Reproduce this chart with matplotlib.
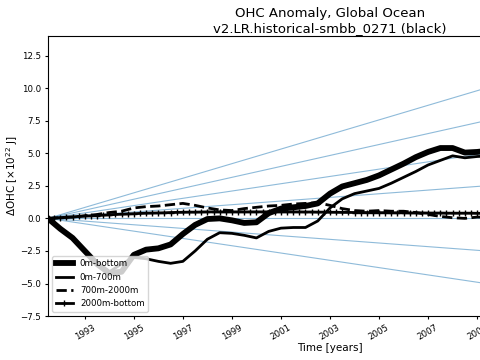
import numpy as np
import matplotlib
matplotlib.use('Agg')
import matplotlib.pyplot as plt


# time axis (years), half-year samples
t0 = 1991.5
time = np.arange(t0, 2009.51, 0.5)
time_q = np.arange(t0, 2009.51, 0.25)   # quarterly for the deep layer

ohc_0_bottom = [0.0, -0.8, -1.5, -2.5, -3.5, -4.2, -4.1, -2.8, -2.4, -2.3,
                -2.0, -1.2, -0.5, -0.05, 0.0, -0.15, -0.35, -0.3, 0.4, 0.75,
                0.85, 0.95, 1.15, 1.9, 2.45, 2.7, 2.95, 3.3, 3.75, 4.2,
                4.7, 5.1, 5.4, 5.4, 5.05, 5.1, 5.2]

ohc_0_700 = [0.0, -0.8, -1.5, -2.5, -3.5, -4.1, -3.5, -3.0, -3.1, -3.3,
             -3.45, -3.3, -2.5, -1.6, -1.1, -1.15, -1.3, -1.5, -1.0, -0.75,
             -0.7, -0.7, -0.2, 0.8, 1.5, 1.9, 2.1, 2.3, 2.7, 3.15,
             3.6, 4.1, 4.45, 4.8, 4.65, 4.75, 4.8]

ohc_700_2000 = [0.0, 0.05, 0.1, 0.2, 0.3, 0.45, 0.55, 0.8, 0.9, 0.95,
                1.05, 1.15, 1.0, 0.8, 0.65, 0.6, 0.75, 0.85, 0.95, 1.0,
                1.1, 1.15, 1.2, 1.0, 0.75, 0.6, 0.55, 0.6, 0.55, 0.55,
                0.45, 0.3, 0.15, 0.05, 0.0, 0.1, 0.1]

ohc_2000_bottom = [0.0, 0.03, 0.06, 0.09, 0.12, 0.15, 0.18, 0.2,
                   0.22, 0.25, 0.27, 0.3, 0.32, 0.34, 0.36, 0.38,
                   0.4, 0.41, 0.42, 0.43, 0.45, 0.46, 0.47, 0.48,
                   0.48, 0.49, 0.5, 0.5, 0.5, 0.5, 0.5, 0.5,
                   0.5, 0.5, 0.5, 0.5, 0.5, 0.5, 0.5, 0.5,
                   0.5, 0.5, 0.49, 0.49, 0.48, 0.48, 0.47, 0.47,
                   0.46, 0.46, 0.45, 0.45, 0.45, 0.44, 0.44, 0.44,
                   0.43, 0.43, 0.43, 0.42, 0.42, 0.42, 0.41, 0.41,
                   0.41, 0.4, 0.4, 0.4, 0.4, 0.4, 0.39, 0.39, 0.39]

# reference trend lines, x10^22 J per year
trend_slopes = [0.56, 0.42, 0.28, 0.14, 0.0, -0.14, -0.28]

xmax = 2014.5

fig = plt.figure(figsize=(4.8, 3.6), dpi=100)
ax = fig.add_axes([0.1, 0.122, 1.175, 0.778])

tt = np.array([t0, xmax])
for s in trend_slopes:
    ax.plot(tt, s * (tt - t0), color='tab:blue', alpha=0.5, lw=0.8)

ax.plot(time, ohc_0_bottom, color='k', lw=4.2, label='0m-bottom')
ax.plot(time, ohc_0_700, color='k', lw=2, label='0m-700m')
ax.plot(time, ohc_700_2000, color='k', lw=2, ls='--', label='700m-2000m')
ax.plot(time_q, ohc_2000_bottom, color='k', lw=2, marker='+', ms=5,
        label='2000m-bottom')

ax.set_xlim(t0, xmax)
ax.set_ylim(-7.5, 14)
ax.set_xticks(np.arange(1993, 2014, 2))
ax.tick_params(labelsize=6.2, length=2.5, pad=2.3)
plt.setp(ax.get_xticklabels(), rotation=30)

ax.set_xlabel('Time [years]', fontsize=7.5, labelpad=1)
ax.set_ylabel('ΔOHC [×10$^{22}$ J]', fontsize=7.5, labelpad=0)
ax.set_title('OHC Anomaly, Global Ocean\nv2.LR.historical-smbb_0271 (black)',
             fontsize=9.5, pad=3)
ax.legend(loc='lower left', fontsize=6.2)

plt.savefig('out.png', dpi=100)
